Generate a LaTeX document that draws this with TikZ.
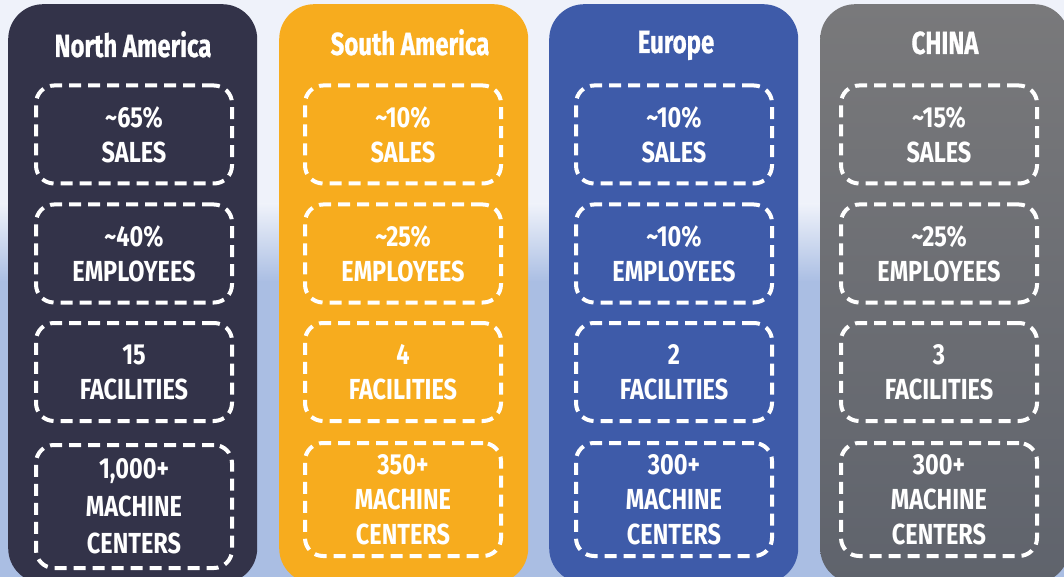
\documentclass[tikz,border=0pt]{standalone}
\usepackage{fontspec}
\setmainfont{Fira Sans}
\newfontfamily\titlefont[FakeStretch=0.75,FakeBold=0.6]{Fira Sans}
\newfontfamily\valfont[FakeStretch=0.81]{Fira Sans}
\definecolor{bgtop}{RGB}{239,242,250}
\definecolor{bgbot}{RGB}{170,190,227}
\definecolor{nacol}{RGB}{51,51,73}
\definecolor{sacol}{RGB}{247,172,30}
\definecolor{eucol}{RGB}{62,91,169}
\definecolor{cntop}{RGB}{121,121,123}
\definecolor{cnbot}{RGB}{95,99,108}
\begin{document}
\begin{tikzpicture}[x=1pt,y=-1pt,
  column/.style={rectangle, rounded corners=35pt, minimum width=249pt, minimum height=579pt, inner sep=0pt, anchor=north west},
  title/.style={text=white, anchor=base, font=\titlefont\bfseries\fontsize{32}{34}\selectfont},
  stat/.style={draw=white, line width=4pt, dash pattern=on 12pt off 7pt, rounded corners=18pt, minimum width=196pt, minimum height=98pt, text=white, align=center, inner sep=0pt, font=\valfont\bfseries\fontsize{29}{35}\selectfont},
  tall/.style={minimum height=113pt},
  taller/.style={minimum height=123pt, font=\valfont\bfseries\fontsize{29}{37.5}\selectfont}]
\useasboundingbox (0,0) rectangle (1064,577);
\clip (0,0) rectangle (1064,577);
% background
\fill[bgtop] (0,0) rectangle (1064,205);
\shade[top color=bgtop, bottom color=bgbot] (0,204) rectangle (1064,282);
\fill[bgbot] (0,281) rectangle (1064,577);
% columns
\node[column, fill=nacol] (na) at (8,4) {};
\node[column, fill=sacol] (sa) at (279,4) {};
\node[column, fill=eucol] (eu) at (549,4) {};
\node[column, top color=cntop, bottom color=cnbot] (cn) at (820,4) {};
% titles
\node[title] (naT) at (133,57) {North America};
\node[title] (saT) at (410,55) {South America};
\node[title] (euT) at (676,53) {Europe};
\node[title] (cnT) at (945,54) {CHINA};
% North America
\node[stat] (na1) at (134,134.5) {\textasciitilde 65\%\\SALES};
\node[stat] (na2) at (134,253.5) {\textasciitilde 40\%\\EMPLOYEES};
\node[stat] (na3) at (134,372) {15\\FACILITIES};
\node[stat, taller] (na4) at (134,506.5) {1,000+\\MACHINE\\CENTERS};
% South America
\node[stat] (sa1) at (403,134.5) {\textasciitilde 10\%\\SALES};
\node[stat] (sa2) at (403,253.5) {\textasciitilde 25\%\\EMPLOYEES};
\node[stat] (sa3) at (403,372) {4\\FACILITIES};
\node[stat, tall] (sa4) at (403,499.5) {350+\\MACHINE\\CENTERS};
% Europe
\node[stat] (eu1) at (674,134.5) {\textasciitilde 10\%\\SALES};
\node[stat] (eu2) at (674,253.5) {\textasciitilde 10\%\\EMPLOYEES};
\node[stat] (eu3) at (674,372) {2\\FACILITIES};
\node[stat, tall] (eu4) at (674,499.5) {300+\\MACHINE\\CENTERS};
% China
\node[stat] (cn1) at (939,134.5) {\textasciitilde 15\%\\SALES};
\node[stat] (cn2) at (939,253.5) {\textasciitilde 25\%\\EMPLOYEES};
\node[stat] (cn3) at (939,372) {3\\FACILITIES};
\node[stat, tall] (cn4) at (939,499.5) {300+\\MACHINE\\CENTERS};
\end{tikzpicture}
\end{document}
